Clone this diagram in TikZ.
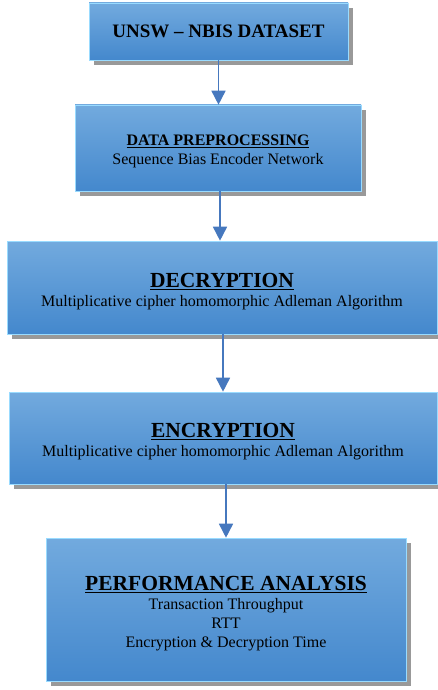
\documentclass[tikz,border=0pt]{standalone}
\usepackage{fontspec}
\setmainfont{Liberation Serif}
\usetikzlibrary{arrows.meta,shadows}

\begin{document}
\begin{tikzpicture}[x=1pt,y=1pt,
    stagebox/.style={draw=blue!35!cyan!40, line width=0.6pt, top color=boxtop, bottom color=boxbot,
        drop shadow={shadow xshift=5pt, shadow yshift=-5pt, fill=black!40, opacity=1},
        align=center, inner sep=0pt, font=\fontsize{16}{19}\selectfont},
    flow/.style={draw=flowblue, line width=1.6pt, -{Triangle[width=14pt,length=14pt]}}]
                \definecolor{boxtop}{RGB}{114,170,222}
                \definecolor{boxbot}{RGB}{68,136,205}
                \definecolor{flowblue}{RGB}{70,120,190}
                \useasboundingbox (0,0) rectangle (438,-690);
                \node [stagebox,minimum width=259pt,minimum height=57pt] (dataset) at (218.5,-31.5)
                    {\fontsize{19}{22}\selectfont\bfseries UNSW -- NBIS DATASET};
                \node [stagebox,minimum width=286pt,minimum height=86pt] (prep) at (218,-148)
                    {{\fontsize{16}{19}\selectfont\bfseries\rule{0pt}{17pt}\underline{DATA PREPROCESSING}}\\Sequence Bias Encoder Network};
                \node [stagebox,minimum width=430pt,minimum height=93pt] (decrypt) at (222,-287.5)
                    {{\fontsize{21.5}{23}\selectfont\bfseries\rule{0pt}{22pt}\underline{DECRYPTION}}\\Multiplicative cipher homomorphic Adleman Algorithm};
                \node [stagebox,minimum width=428pt,minimum height=92pt] (encrypt) at (223,-438)
                    {{\fontsize{21.5}{23}\selectfont\bfseries\rule{0pt}{22pt}\underline{ENCRYPTION}}\\Multiplicative cipher homomorphic Adleman Algorithm};
                \node [stagebox,minimum width=360pt,minimum height=143pt] (perf) at (226,-609.5)
                    {{\fontsize{21.5}{23}\selectfont\bfseries\rule{0pt}{22pt}\underline{PERFORMANCE ANALYSIS}}\\Transaction Throughput\\RTT\\Encryption \& Decryption Time};
                \draw [flow] (dataset.south) -- (dataset.south |- prep.north);
                \draw [flow] ([xshift=2pt]prep.south) -- ([xshift=2pt]prep.south |- decrypt.north);
                \draw [flow] ([xshift=1pt]decrypt.south) -- ([xshift=1pt]decrypt.south |- encrypt.north);
                \draw [flow] ([xshift=3pt]encrypt.south) -- ([xshift=3pt]encrypt.south |- perf.north);
            \end{tikzpicture}
\end{document}
